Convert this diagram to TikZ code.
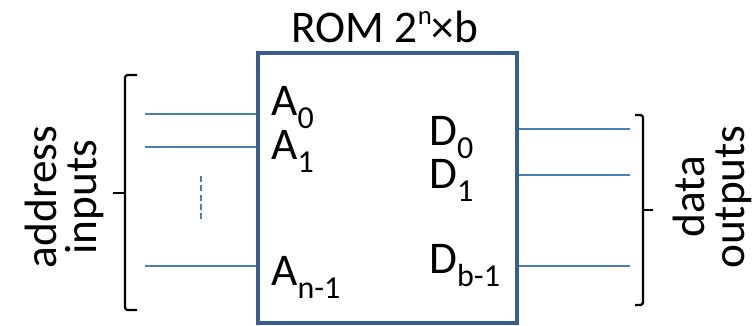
\documentclass[tikz,border=0pt]{standalone}
\usepackage{fontspec}
\setmainfont{Carlito}
\usetikzlibrary{positioning,calc}
\definecolor{frame}{RGB}{56,93,138}
\definecolor{wire}{RGB}{74,126,187}
\newcommand{\sbs}[1]{\raisebox{-0.3em}{\fontsize{24}{24}\selectfont #1}}
\newcommand{\sps}[1]{\raisebox{0.38em}{\fontsize{20}{20}\selectfont #1}}
\tikzset{
  romblock/.style={draw=frame,line width=3pt,minimum width=194pt,minimum height=202pt,inner sep=0pt},
  wireline/.style={draw=wire,line width=2.1pt},
  pin/.style={font=\fontsize{34}{34}\selectfont,inner sep=0pt,anchor=base west},
  side/.style={font=\fontsize{34}{30}\selectfont,align=center,rotate=90,inner sep=0pt},
  brk/.style={draw=black,line width=1.7pt,rounded corners=2pt}
}
\begin{document}
\begin{tikzpicture}[x=0.75pt,y=-0.75pt]
  \useasboundingbox (0,0) rectangle (756,325);
  % the memory block
  \node[romblock] (rom) at (387.5,188) {};
  \node[pin,anchor=base] (title) at (385,42) {ROM 2\sps{n}\texttimes b};

  % address side
  \coordinate (a0) at (145,114);
  \coordinate (a1) at (145,147);
  \coordinate (an) at (145,266);
  \foreach \p in {a0,a1,an}
    \draw[wireline] (\p) -- (\p -| rom.west);
  \coordinate (dtop) at (201,176);
  \coordinate (dbot) at (201,220);
  \draw[wire,line width=1.5pt,dash pattern=on 4.5pt off 2.5pt] (dtop) -- (dbot);
  \node[pin] (la0) at (271,115) {A\sbs{0}};
  \node[pin] (la1) at (271,159) {A\sbs{1}};
  \node[pin] (lan) at (271,285) {A\sbs{n-1}};

  % data side
  \coordinate (d0) at (630,129);
  \coordinate (d1) at (630,175);
  \coordinate (db) at (630,266);
  \foreach \p in {d0,d1,db}
    \draw[wireline] (\p -| rom.east) -- (\p);
  \node[pin] (ld0) at (429,145) {D\sbs{0}};
  \node[pin] (ld1) at (429,188) {D\sbs{1}};
  \node[pin] (ldb) at (429,273) {D\sbs{b-1}};

  % braces and their captions
  \draw[brk] (137,75) -- (125,75) -- (125,310) -- (137,310);
  \draw[brk] (125,193) -- (113,193);
  \node[side] (addr) at (64,197) {address\\inputs};
  \draw[brk] (635,115) -- (643,115) -- (643,305) -- (635,305);
  \draw[brk] (643,210) -- (653,210);
  \node[side] (dout) at (712,197) {data\\outputs};
\end{tikzpicture}
\end{document}
